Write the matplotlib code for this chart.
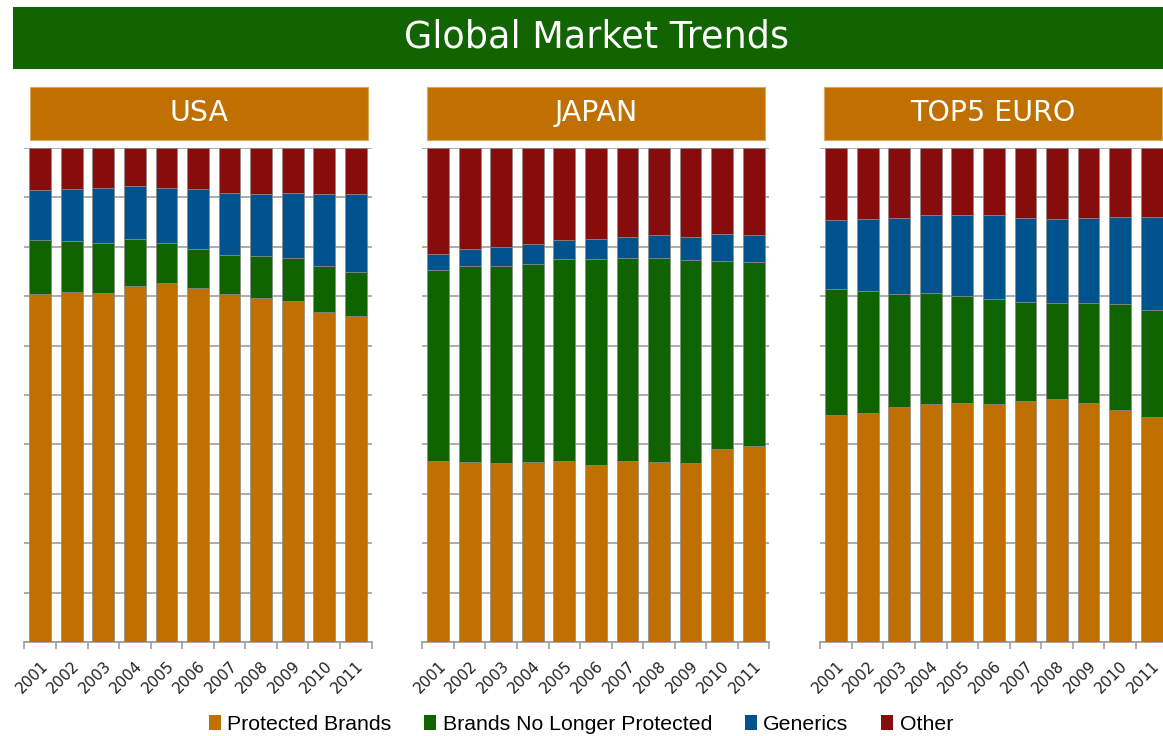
import matplotlib
matplotlib.use("Agg")
import matplotlib.pyplot as plt
from matplotlib.patches import Rectangle, Patch
from matplotlib.transforms import ScaledTranslation
import numpy as np

years = ["2001", "2002", "2003", "2004", "2005", "2006", "2007", "2008", "2009", "2010", "2011"]
series_names = ["Protected Brands", "Brands No Longer Protected", "Generics", "Other"]
regions = ["USA", "JAPAN", "TOP5 EURO"]

usa_protected = [70.4, 70.9, 70.6, 72.1, 72.6, 71.6, 70.4, 69.7, 69.0, 66.8, 65.9]
usa_no_longer = [11.0, 10.3, 10.2, 9.5, 8.1, 8.0, 7.9, 8.4, 8.7, 9.3, 9.1]
usa_generics = [10.1, 10.4, 11.2, 10.8, 11.3, 12.0, 12.5, 12.5, 13.2, 14.5, 15.7]
usa_other = [8.5, 8.4, 8.0, 7.6, 8.0, 8.4, 9.2, 9.4, 9.1, 9.4, 9.3]

japan_protected = [36.6, 36.5, 36.2, 36.4, 36.6, 35.8, 36.6, 36.5, 36.2, 39.1, 39.6]
japan_no_longer = [38.7, 39.6, 40.0, 40.2, 40.9, 41.7, 41.1, 41.3, 41.2, 38.0, 37.3]
japan_generics = [3.3, 3.4, 3.7, 3.9, 3.9, 4.1, 4.2, 4.5, 4.6, 5.4, 5.4]
japan_other = [21.4, 20.5, 20.1, 19.5, 18.6, 18.4, 18.1, 17.7, 18.0, 17.5, 17.7]

euro_protected = [46.0, 46.4, 47.5, 48.1, 48.4, 48.2, 48.8, 49.2, 48.4, 47.0, 45.5]
euro_no_longer = [25.4, 24.6, 22.9, 22.5, 21.6, 21.2, 20.0, 19.4, 20.2, 21.4, 21.8]
euro_generics = [14.0, 14.6, 15.4, 15.8, 16.5, 17.0, 17.0, 17.0, 17.2, 17.7, 18.7]
euro_other = [14.6, 14.4, 14.2, 13.6, 13.5, 13.6, 14.2, 14.4, 14.2, 13.9, 14.0]

region_data = [
    [usa_protected, usa_no_longer, usa_generics, usa_other],
    [japan_protected, japan_no_longer, japan_generics, japan_other],
    [euro_protected, euro_no_longer, euro_generics, euro_other],
]

colors = ["#C07000", "#106400", "#00538C", "#870D0D"]
banner_green = "#116400"
header_orange = "#C07000"

W, H = 1163, 736
fig = plt.figure(figsize=(W / 100, H / 100), dpi=100)
fig.patch.set_facecolor("white")


def fx(px):
    return px / W


def fy(py):
    return 1 - py / H


# Title banner
fig.patches.append(Rectangle((fx(13), fy(69)), fx(1163 - 13), (69 - 7) / H,
                             transform=fig.transFigure, facecolor=banner_green,
                             edgecolor="none", zorder=0))
fig.text(fx(596), fy(37), "Global Market Trends", color="white", fontsize=26.3,
         ha="center", va="center", family="DejaVu Sans")

axes_left = [24.5, 422.4, 820.4]
axes_width = 347.0
axes_top, axes_bottom = 148, 642
header_left = [30, 427, 824]
header_width = 338

x = np.arange(len(years))
for i, region in enumerate(regions):
    # header box
    fig.patches.append(Rectangle((fx(header_left[i]), fy(140)), fx(header_width), (140 - 87) / H,
                                 transform=fig.transFigure, facecolor=header_orange,
                                 edgecolor="#d9a860", linewidth=0.8, zorder=0))
    fig.text(fx(header_left[i] + header_width / 2), fy(113), region, color="white",
             fontsize=20.5, ha="center", va="center", family="DejaVu Sans")

    ax = fig.add_axes([fx(axes_left[i]), fy(axes_bottom), fx(axes_width),
                       (axes_bottom - axes_top) / H])
    bottom = np.zeros(len(years))
    for vals, col in zip(region_data[i], colors):
        ax.bar(x, vals, bottom=bottom, width=0.69, color=col, edgecolor="#8a8a8a",
               linewidth=0.5, zorder=3)
        bottom += np.array(vals)
    ax.set_xlim(-0.5, len(years) - 0.5)
    ax.set_ylim(0, 100)
    ax.set_yticks(np.arange(0, 101, 10))
    ax.yaxis.grid(True, color="#a6a6a6", linewidth=1.3, zorder=0)
    ax.set_axisbelow(True)
    ax.tick_params(axis="y", length=0, labelleft=False)
    for s in ["top", "left", "right"]:
        ax.spines[s].set_visible(False)
    ax.spines["bottom"].set_color("#a0a0a0")
    ax.spines["bottom"].set_linewidth(1.3)
    ax.set_xticks(x)
    ax.set_xticklabels(years, rotation=45, ha="right", va="top", rotation_mode="anchor",
                       fontsize=11, color="#222222", family="DejaVu Sans")
    offset = ScaledTranslation(2 / 72, 0, fig.dpi_scale_trans)
    for lab in ax.get_xticklabels():
        lab.set_transform(lab.get_transform() + offset)
    ax.set_xticks(np.arange(-0.5, len(years), 1.0), minor=True)
    ax.tick_params(axis="x", which="major", length=0, pad=12)
    ax.tick_params(axis="x", which="minor", length=5, color="#a0a0a0", width=1.2)
    ax.set_facecolor("none")

handles = [Patch(facecolor=c, edgecolor="none") for c in colors]
fig.legend(handles, series_names, loc="center", bbox_to_anchor=(fx(581), fy(724)),
           ncol=4, frameon=False, handlelength=0.56, handleheight=0.7,
           handletextpad=0.3, columnspacing=1.55, borderpad=0,
           prop={"family": "Liberation Sans", "size": 15.3})

fig.savefig("out.png", dpi=100)
